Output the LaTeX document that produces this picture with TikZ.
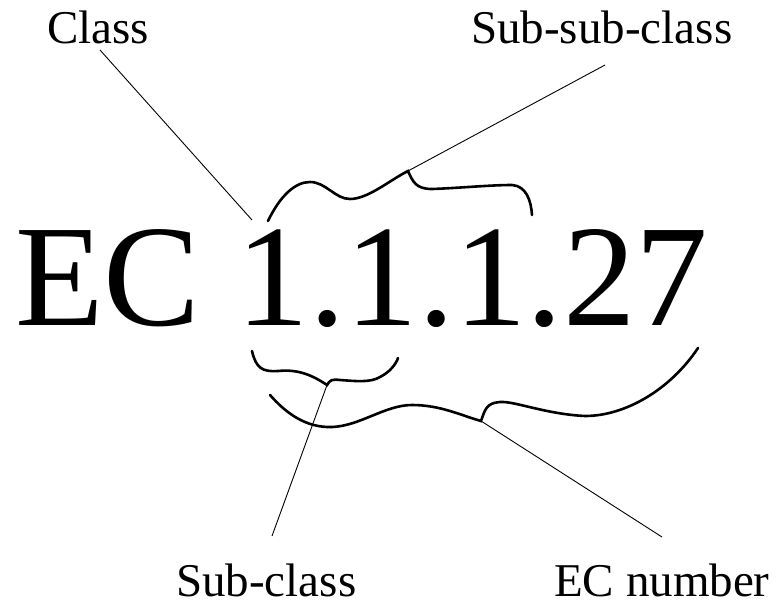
\documentclass[tikz,border=0pt]{standalone}
\usepackage{fontspec}
\setmainfont{Liberation Serif}
\begin{document}
\begin{tikzpicture}[x=1pt,y=-1pt,
  label/.style={anchor=base west,inner sep=0pt,text depth=0pt,font=\fontsize{47}{47}\selectfont},
  brace/.style={line width=2.6pt,line cap=round},
  leader/.style={line width=0.9pt}]
\useasboundingbox (0,0) rectangle (781,605);
\node[anchor=base west,inner sep=0pt,font=\fontsize{145}{145}\selectfont] (ec) at (15,325) {EC 1.1.1.27};
\node[label] (class) at (47,43) {Class};
\node[label] (subsub) at (471,43) {Sub-sub-class};
\node[label] (sub) at (176,596) {Sub-class};
\node[label] (ecnum) at (554,596) {EC number};
% coordinates
\coordinate (classA) at (100,50);
\coordinate (classB) at (252,220);
\coordinate (ssA) at (605,65);
\coordinate (ssTip) at (408,171);
\coordinate (sA) at (272,536);
\coordinate (sTip) at (327,385);
\coordinate (eA) at (662,537);
\coordinate (eTip) at (481,421);
% braces
\draw[brace] (268,221) .. controls (280,196) and (295,182) .. (310,182)
  .. controls (326,182) and (335,199) .. (350,199)
  .. controls (368,199) and (390,180) .. (ssTip)
  .. controls (413,182) and (416,189) .. (432,189)
  .. controls (460,188) and (490,185) .. (512,185)
  .. controls (526,186) and (531,200) .. (532,215);
\draw[brace] (252,351) .. controls (256,368) and (262,372) .. (278,371)
  .. controls (298,369) and (312,375) .. (sTip)
  .. controls (330,380) and (332,379) .. (340,380)
  .. controls (355,381) and (370,383) .. (380,377)
  .. controls (390,372) and (396,364) .. (398,358);
\draw[brace] (270,395) .. controls (285,412) and (305,428) .. (332,427)
  .. controls (360,426) and (385,405) .. (412,405)
  .. controls (440,405) and (460,415) .. (eTip)
  .. controls (485,410) and (486,403) .. (500,402)
  .. controls (515,401) and (545,414) .. (585,416)
  .. controls (625,416) and (670,390) .. (698,348);
% leaders
\draw[leader] (classA) -- (classB);
\draw[leader] (ssA) -- (ssTip);
\draw[leader] (sTip) -- (sA);
\draw[leader] (eTip) -- (eA);
\end{tikzpicture}
\end{document}
